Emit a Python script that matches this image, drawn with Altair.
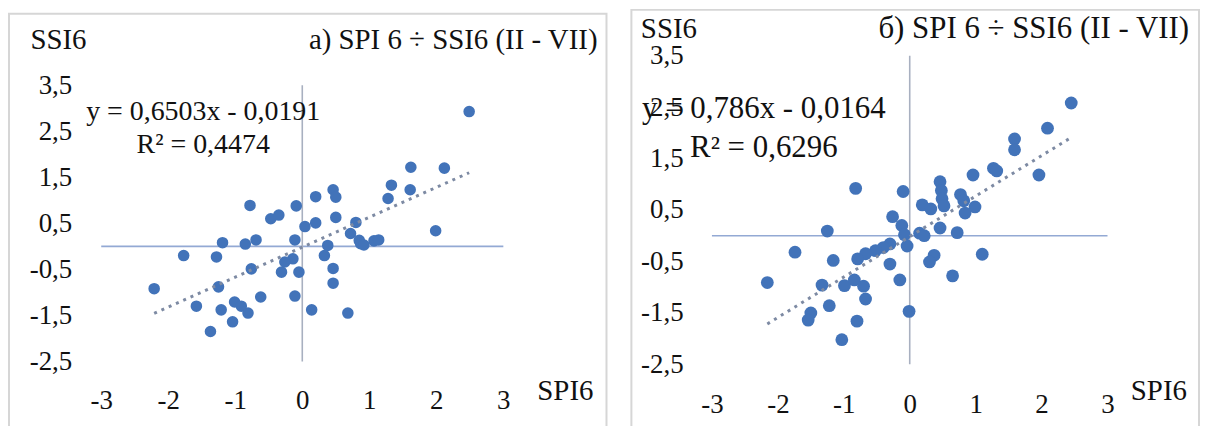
import altair as alt
import pandas as pd

# ---------------- data ----------------
# panel a)
a_spi = [2.49, 2.12, 1.62, 1.33, 1.61, 1.28, 0.46, 0.50, 0.20, -0.78,
         -0.09, -0.47, -0.35, 0.50, 0.20, 0.04, 0.80, 0.72, 0.85, 0.87,
         1.07, 1.14, 1.99, -1.19, -0.85, -0.69, -0.11, 0.38, 0.33, -1.77,
         -1.28, -0.14, -0.26, -0.31, -0.05, -0.76, 0.46, 0.46, -2.21, -1.25,
         -0.62, -0.11, 0.14, 0.68, -1.58, -1.21, -1.01, -0.91, -0.81, -1.04,
         -1.37, 0.92]
a_ssi = [2.93, 1.70, 1.72, 1.33, 1.23, 1.04, 1.23, 1.07, 1.08, 0.89,
         0.88, 0.60, 0.68, 0.63, 0.51, 0.43, 0.52, 0.28, 0.13, 0.06,
         0.12, 0.14, 0.34, 0.08, 0.05, 0.14, 0.14, 0.02, -0.20, -0.20,
         -0.23, -0.27, -0.34, -0.56, -0.56, -0.49, -0.48, -0.80, -0.92, -0.88,
         -1.10, -1.08, -1.38, -1.45, -1.30, -1.38, -1.21, -1.30, -1.45, -1.64,
         -1.85, 0.03]
a_slope, a_intercept = 0.6503, -0.0191
a_eq = "y = 0,6503x - 0,0191"
a_r2 = "R² = 0,4474"
a_title = "a) SPI 6 ÷ SSI6 (II - VII)"

# panel б)
b_spi = [2.45, 2.09, 1.59, 1.59, 1.96, 1.27, 1.32, 0.96, 0.46, 0.48,
         0.49, 0.77, 0.82, 0.99, 0.84, 0.19, 0.32, 0.52, 0.46, 0.72,
         0.15, 0.22, -0.82, -0.10, -0.26, -0.12, -0.08, -0.04, -1.25, -1.74,
         -1.16, -0.30, -0.40, -0.52, -0.67, -0.79, -0.30, 0.37, 0.30, 1.10,
         0.65, -0.15, -2.16, -1.33, -0.99, -0.84, -0.70, -0.67, -1.22, -1.50,
         -1.54, -0.01, -0.80, -1.03]
b_ssi = [2.58, 2.09, 1.88, 1.67, 1.18, 1.31, 1.26, 1.18, 1.05, 0.88,
         0.72, 0.80, 0.68, 0.56, 0.44, 0.60, 0.52, 0.58, 0.15, 0.06,
         0.05, 0.00, 0.92, 0.86, 0.37, 0.20, 0.02, -0.20, 0.09, -0.32,
         -0.48, -0.16, -0.23, -0.29, -0.35, -0.45, -0.55, -0.38, -0.51, -0.36,
         -0.78, -0.86, -0.91, -0.96, -0.97, -0.86, -0.98, -1.23, -1.36, -1.50,
         -1.64, -1.47, -1.66, -2.02]
b_slope, b_intercept = 0.786, -0.0164
b_eq = "y = 0,786x - 0,0164"
b_r2 = "R² = 0,6296"
b_title = "б) SPI 6 ÷ SSI6 (II - VII)"

x_ticks = [-3, -2, -1, 0, 1, 2, 3]
y_ticks = [-2.5, -1.5, -0.5, 0.5, 1.5, 2.5, 3.5]

FONT = "'Liberation Serif', 'Times New Roman', 'DejaVu Serif', serif"
INK = "#111111"
DOT = "#4273b9"
TREND = "#7d8aa3"
CROSS_H = "#93a9d4"
CROSS_V = "#a8b0c0"
FRAME = "#d6d6d6"
H = 420

Y_LABEL = "(datum.value < 0 ? '-' : '') + replace(format(abs(datum.value), '.1f'), '.', ',')"
X_LABEL = "(datum.value < 0 ? '-' : '') + format(abs(datum.value), 'd')"


def panel(spi, ssi, slope, intercept, eq, r2, title, c):
    df = pd.DataFrame({"SPI6": spi, "SSI6": ssi})
    lo, hi = min(spi), max(spi)
    trend = pd.DataFrame({"SPI6": [lo, hi], "SSI6": [slope * lo + intercept, slope * hi + intercept]})
    one = pd.DataFrame({"k": [0]})
    xs = alt.Scale(domain=c["xdom"], nice=False, zero=False)
    ys = alt.Scale(domain=c["ydom"], nice=False, zero=False)

    points = alt.Chart(df).mark_circle(size=c["dot"], color=DOT, opacity=1).encode(
        x=alt.X("SPI6:Q", scale=xs, axis=alt.Axis(
            values=x_ticks, labelExpr=X_LABEL, orient="bottom", offset=c["xoff"],
            domain=False, ticks=False, tickSize=0, grid=False, labelPadding=0,
            labelFont=FONT, labelFontSize=c["tick"], labelColor=INK, labelFlush=False,
            labelOverlap=False, title="SPI6", titleAngle=0, titleAlign="left",
            titleBaseline="alphabetic", titleX=c["xtx"], titleY=c["xty"], titleFont=FONT,
            titleFontSize=c["axt"], titleFontWeight="normal", titleColor=INK)),
        y=alt.Y("SSI6:Q", scale=ys, axis=alt.Axis(
            values=y_ticks, labelExpr=Y_LABEL, orient="left", offset=c["yoff"],
            domain=False, ticks=False, tickSize=0, grid=False, labelPadding=0,
            labelFont=FONT, labelFontSize=c["tick"], labelColor=INK, labelFlush=False,
            labelOverlap=False, title="SSI6", titleAngle=0, titleAlign="left",
            titleBaseline="alphabetic", titleX=c["ytx"], titleY=c["yty"], titleFont=FONT,
            titleFontSize=c["axt"], titleFontWeight="normal", titleColor=INK)),
    )
    hline = alt.Chart(one).mark_rule(color=CROSS_H, strokeWidth=1.6).encode(
        x=alt.datum(min(x_ticks)), x2=alt.datum(max(x_ticks)), y=alt.datum(0))
    vline = alt.Chart(one).mark_rule(color=CROSS_V, strokeWidth=1.6).encode(
        x=alt.datum(0), y=alt.datum(min(y_ticks)), y2=alt.datum(max(y_ticks)))
    tline = alt.Chart(trend).mark_line(color=TREND, strokeWidth=3, strokeDash=[3, 5]).encode(
        x="SPI6:Q", y="SSI6:Q")
    frame = alt.Chart(one).mark_rect(fillOpacity=0, stroke=FRAME, strokeWidth=2).encode(
        x=alt.value(1), x2=alt.value(c["w"] - 1), y=alt.value(c["ftop"]), y2=alt.value(H))

    def txt(s, x, y, size, align):
        return alt.Chart(one).mark_text(text=s, font=FONT, fontSize=size, color=INK,
                                        align=align, baseline="alphabetic").encode(
            x=alt.value(x), y=alt.value(y))

    return alt.layer(
        frame, hline, vline, points, tline,
        txt(title, c["tx"], c["ty"], c["tsz"], "right"),
        txt(eq, c["ex"], c["ey"], c["esz"], "center"),
        txt(r2, c["ex"], c["ry"], c["esz"], "center"),
    ).properties(width=c["w"], height=H)


left = panel(a_spi, a_ssi, a_slope, a_intercept, a_eq, a_r2, a_title, dict(
    w=602, xdom=[-4.391, 4.554], ydom=[-3.929, 5.162], dot=135,
    xoff=-40, xtx=531, xty=12, yoff=-64, ytx=-42, yty=40, tick=27, axt=29,
    ftop=5, tx=592, ty=40, tsz=29, ex=196, ey=112, ry=145, esz=28))

right = panel(b_spi, b_ssi, b_slope, b_intercept, b_eq, b_r2, b_title, dict(
    w=572, xdom=[-4.237, 4.403], ydom=[-3.720, 4.409], dot=165,
    xoff=-36, xtx=502, xty=8, yoff=-53, ytx=-43, yty=29, tick=27, axt=29,
    ftop=1, tx=561, ty=29, tsz=31, ex=134, ey=110, ry=149, esz=31))

chart = alt.hconcat(left, right, spacing=23).configure_view(strokeWidth=0).properties(
    padding={"left": 0, "top": 0, "right": 0, "bottom": 0}, background="white")

chart.save("out.html", embed_options={"renderer": "svg", "actions": False})
